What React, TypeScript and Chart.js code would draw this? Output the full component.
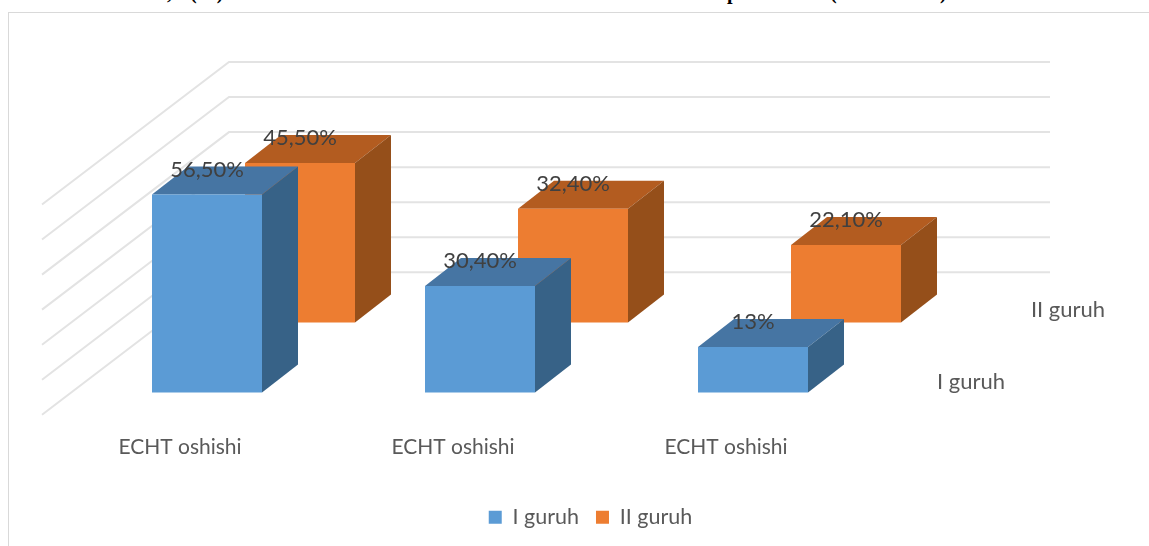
import React, { useEffect, useRef } from "react";
import { Chart, registerables } from "chart.js";

Chart.register(...registerables);

const categories = ["ECHT oshishi", "ECHT oshishi", "ECHT oshishi"];
const seriesNames = ["I guruh", "II guruh"];
const groupOneValues = [56.5, 30.4, 13];
const groupTwoValues = [45.5, 32.4, 22.1];
const groupOneLabels = ["56,50%", "30,40%", "13%"];
const groupTwoLabels = ["45,50%", "32,40%", "22,10%"];
const wallTicks = [0, 10, 20, 30, 40, 50, 60];

const FONT = "Lato, 'Open Sans', sans-serif";
const BLUE = "#5B9BD5";
const ORANGE = "#ED7D31";
const faces = [
  { top: "#4675A3", side: "#376287", labels: groupOneLabels },
  { top: "#B35C20", side: "#954F1A", labels: groupTwoLabels },
];
const DEPTH_X = 36;
const DEPTH_Y = 28;

const depthPlugin = {
  id: "depth",
  afterLayout(chart: any) {
    chart.legend.left += 64;
    chart.legend.right += 64;
  },
  beforeDatasetsDraw(chart: any) {
    const ctx = chart.ctx;
    const wall = chart.scales.wall;
    ctx.save();
    ctx.strokeStyle = "#E3E3E3";
    ctx.lineWidth = 2;
    ctx.lineJoin = "miter";
    wallTicks.forEach((t) => {
      const y = wall.getPixelForValue(t);
      ctx.beginPath();
      ctx.moveTo(42, y + 142.5);
      ctx.lineTo(229, y);
      ctx.lineTo(1050, y);
      ctx.stroke();
    });
    ctx.restore();
  },
  beforeDatasetDraw(chart: any, args: any) {
    const ctx = chart.ctx;
    const face = faces[args.index];
    ctx.save();
    chart.getDatasetMeta(args.index).data.forEach((bar: any) => {
      const half = bar.width / 2;
      const l = bar.x - half;
      const r = bar.x + half;
      const t = bar.y;
      const b = bar.base;
      ctx.fillStyle = face.top;
      ctx.beginPath();
      ctx.moveTo(l, t);
      ctx.lineTo(l + DEPTH_X, t - DEPTH_Y);
      ctx.lineTo(r + DEPTH_X, t - DEPTH_Y);
      ctx.lineTo(r, t);
      ctx.closePath();
      ctx.fill();
      ctx.fillStyle = face.side;
      ctx.beginPath();
      ctx.moveTo(r, t);
      ctx.lineTo(r + DEPTH_X, t - DEPTH_Y);
      ctx.lineTo(r + DEPTH_X, b - DEPTH_Y);
      ctx.lineTo(r, b);
      ctx.closePath();
      ctx.fill();
    });
    ctx.restore();
  },
  afterDatasetsDraw(chart: any) {
    const ctx = chart.ctx;
    ctx.save();
    ctx.textAlign = "center";
    ctx.textBaseline = "middle";
    ctx.font = `22px ${FONT}`;
    ctx.fillStyle = "#404040";
    [1, 0].forEach((i) => {
      chart.getDatasetMeta(i).data.forEach((bar: any, j: number) => {
        ctx.fillText(faces[i].labels[j], bar.x, bar.y - 25);
      });
    });
    ctx.fillStyle = "#595959";
    const right = chart.chartArea.right;
    ctx.fillText(seriesNames[1], right + 132, chart.scales.y2.getPixelForValue(0) - 12);
    ctx.fillText(seriesNames[0], right + 35, chart.scales.y.getPixelForValue(0) - 11);
    ctx.restore();
  },
};

const titleBits = [
  { text: ",", left: 167 },
  { text: "(%)", left: 190 },
  { text: "p", left: 727 },
  { text: "(", left: 830 },
  { text: ")", left: 940 },
];

export default function App() {
  const ref = useRef<HTMLCanvasElement>(null);
  useEffect(() => {
    const chart = new Chart(ref.current!, {
      type: "bar",
      data: {
        labels: categories,
        datasets: [
          { label: seriesNames[0], data: groupOneValues, backgroundColor: BLUE, yAxisID: "y", clip: false },
          { label: seriesNames[1], data: groupTwoValues, backgroundColor: ORANGE, yAxisID: "y2", clip: false },
        ],
      },
      options: {
        animation: false,
        responsive: false,
        categoryPercentage: 186 / 273,
        barPercentage: 110 / 93,
        layout: { padding: { left: 117, right: 213, top: 62, bottom: 8 } },
        plugins: {
          tooltip: { enabled: false },
          title: { display: false },
          legend: {
            position: "bottom",
            labels: {
              boxWidth: 13,
              boxHeight: 13,
              padding: 17,
              color: "#595959",
              font: { family: FONT, size: 21.5 },
            },
          },
        },
        scales: {
          x: {
            grid: { display: false, drawTicks: false },
            border: { display: false },
            ticks: {
              autoSkip: false,
              maxRotation: 0,
              padding: 42,
              labelOffset: -73.5,
              color: "#595959",
              font: { family: FONT, size: 21 },
            },
            afterFit(scale: any) {
              scale.height = 97;
            },
          },
          y: { display: false, min: 0, max: 330 / 3.5 },
          y2: { axis: "y", display: false, min: -20, max: 330 / 3.5 - 20 },
          wall: { axis: "y", display: false, min: -240 / 7, max: 60 },
        },
      } as any,
      plugins: [depthPlugin],
    });
    return () => chart.destroy();
  }, []);
  return (
    <div style={{ position: "fixed", inset: 0, overflow: "hidden", background: "#fff" }}>
      {titleBits.map((b, i) => (
        <span
          key={i}
          style={{
            position: "absolute",
            left: b.left,
            top: -19,
            lineHeight: "20px",
            font: "bold 20px 'Liberation Serif', serif",
            color: "#000",
          }}
        >
          {b.text}
        </span>
      ))}
      <div
        style={{
          position: "absolute",
          left: 8,
          top: 12,
          width: 1300,
          height: 700,
          border: "1.5px solid #D9D9D9",
        }}
      />
      <canvas
        ref={ref}
        width={1149}
        height={546}
        style={{ position: "absolute", left: 0, top: 0, width: 1149, height: 546 }}
      />
    </div>
  );
}
